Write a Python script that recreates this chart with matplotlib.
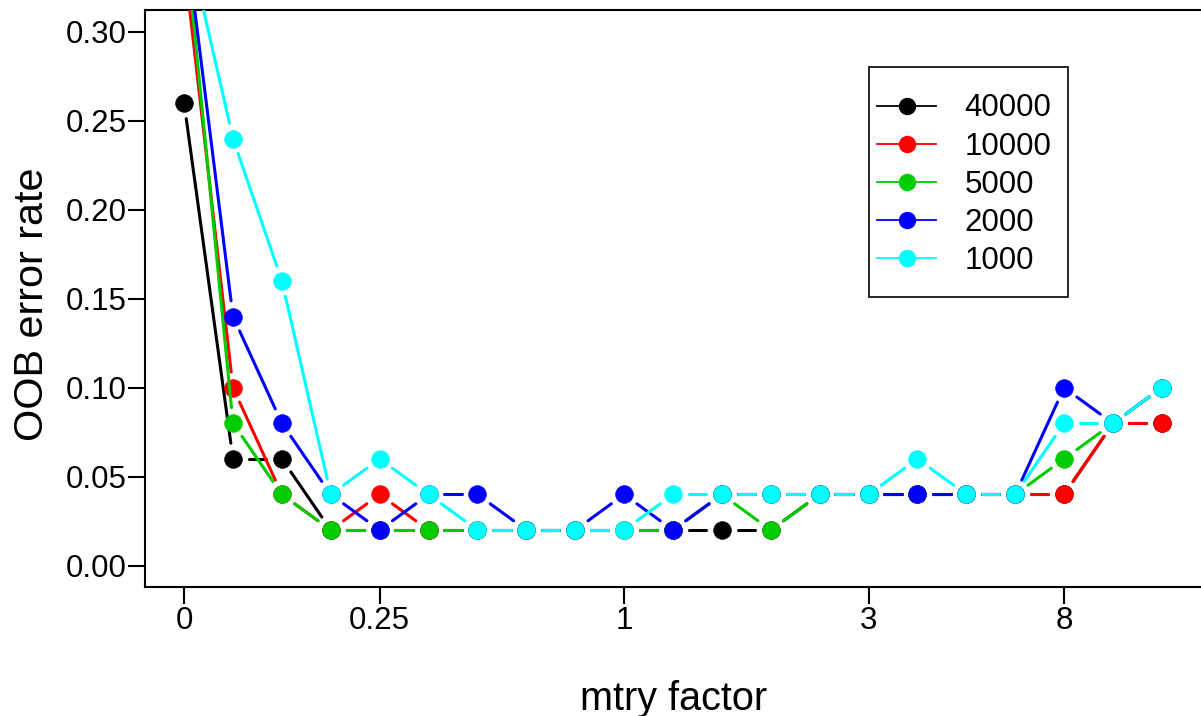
import numpy as np
import matplotlib.pyplot as plt
from matplotlib.collections import LineCollection
from matplotlib.lines import Line2D
from matplotlib.patches import Rectangle

plt.rcParams['font.family'] = ['Liberation Sans', 'DejaVu Sans']

# mtry factor positions (equally spaced) and the labelled ones
x = np.arange(21)
tick_pos = [0, 4, 9, 14, 18]
tick_labels = ['0', '0.25', '1', '3', '8']

series_names = ['40000', '10000', '5000', '2000', '1000']
colors = ['black', '#FF0000', '#00CD00', '#0000FF', '#00FFFF']

err_40000 = [0.26, 0.06, 0.06, 0.02, 0.02, 0.02, 0.02, 0.02, 0.02, 0.02, 0.02,
             0.02, 0.02, 0.04, 0.04, 0.04, 0.04, 0.04, 0.04, 0.08, 0.08]
err_10000 = [0.34, 0.10, 0.04, 0.02, 0.04, 0.02, 0.02, 0.02, 0.02, 0.02, 0.02,
             0.04, 0.04, 0.04, 0.04, 0.04, 0.04, 0.04, 0.04, 0.08, 0.08]
err_5000 = [0.36, 0.08, 0.04, 0.02, 0.02, 0.02, 0.02, 0.02, 0.02, 0.02, 0.02,
            0.04, 0.02, 0.04, 0.04, 0.04, 0.04, 0.04, 0.06, 0.08, 0.10]
err_2000 = [0.36, 0.14, 0.08, 0.04, 0.02, 0.04, 0.04, 0.02, 0.02, 0.04, 0.02,
            0.04, 0.04, 0.04, 0.04, 0.04, 0.04, 0.04, 0.10, 0.08, 0.10]
err_1000 = [0.36, 0.24, 0.16, 0.04, 0.06, 0.04, 0.02, 0.02, 0.02, 0.02, 0.04,
            0.04, 0.04, 0.04, 0.04, 0.06, 0.04, 0.04, 0.08, 0.08, 0.10]
all_err = [err_40000, err_10000, err_5000, err_2000, err_1000]

fig = plt.figure(figsize=(12.01, 7.16), dpi=100)
ax = fig.add_axes([145 / 1201, 129 / 716, 1056 / 1201, 576.5 / 716])
ax.set_xlim(-0.8, 20.8)
ax.set_ylim(-0.012, 0.312)


# lines stop short of each point, like R's type="b"
def gapped(xs, ys, gap=15.8):
    pts = ax.transData.transform(np.column_stack([xs, ys]))
    inv = ax.transData.inverted()
    segs = []
    for p0, p1 in zip(pts[:-1], pts[1:]):
        d = p1 - p0
        L = np.hypot(d[0], d[1])
        if L <= 2 * gap:
            continue
        u = d / L
        segs.append(inv.transform([p0 + u * gap, p1 - u * gap]))
    return segs


for i, (ys, c) in enumerate(zip(all_err, colors)):
    lc = LineCollection(gapped(x, ys), colors=c, linewidths=2.2,
                        capstyle='round', zorder=2 + 2 * i)
    ax.add_collection(lc)
    ax.plot(x, ys, 'o', color=c, ms=12.8, mew=0.4, mec=c, zorder=3 + 2 * i)

ax.set_xticks(tick_pos)
ax.set_xticklabels(tick_labels)
ax.set_yticks([0, 0.05, 0.10, 0.15, 0.20, 0.25, 0.30])
ax.set_yticklabels(['0.00', '0.05', '0.10', '0.15', '0.20', '0.25', '0.30'])
ax.tick_params(direction='out', length=12, width=1.5, labelsize=22.5,
               colors='black')
ax.tick_params(axis='y', pad=1)
ax.tick_params(axis='x', pad=2)
ax.spines['right'].set_visible(False)
for s in ['left', 'bottom', 'top']:
    ax.spines[s].set_linewidth(1.5)

fig.text(673.5 / 1201, 6 / 716, 'mtry factor', ha='center', va='baseline',
         fontsize=28.5)
fig.text(43 / 1201, (716 - 304) / 716, 'OOB error rate', rotation=90,
         rotation_mode='anchor', ha='center', va='baseline', fontsize=29.8)

# legend box drawn separately, entries without frame
ax.add_patch(Rectangle((0.6856, 0.503), 0.1884, 0.399, transform=ax.transAxes,
                       fill=False, edgecolor='black', lw=1.2, zorder=20))
handles = [Line2D([], [], color=c, lw=1.3, marker='o', ms=11.5)
           for c in colors]
leg = ax.legend(handles, series_names, loc='upper left',
                bbox_to_anchor=(0.6932, 0.8561), borderaxespad=0, borderpad=0,
                fontsize=22.5, frameon=False,
                handlelength=1.9, handletextpad=0.9, labelspacing=0.26)
leg.set_zorder(21)

fig.savefig('out.png', dpi=100)
